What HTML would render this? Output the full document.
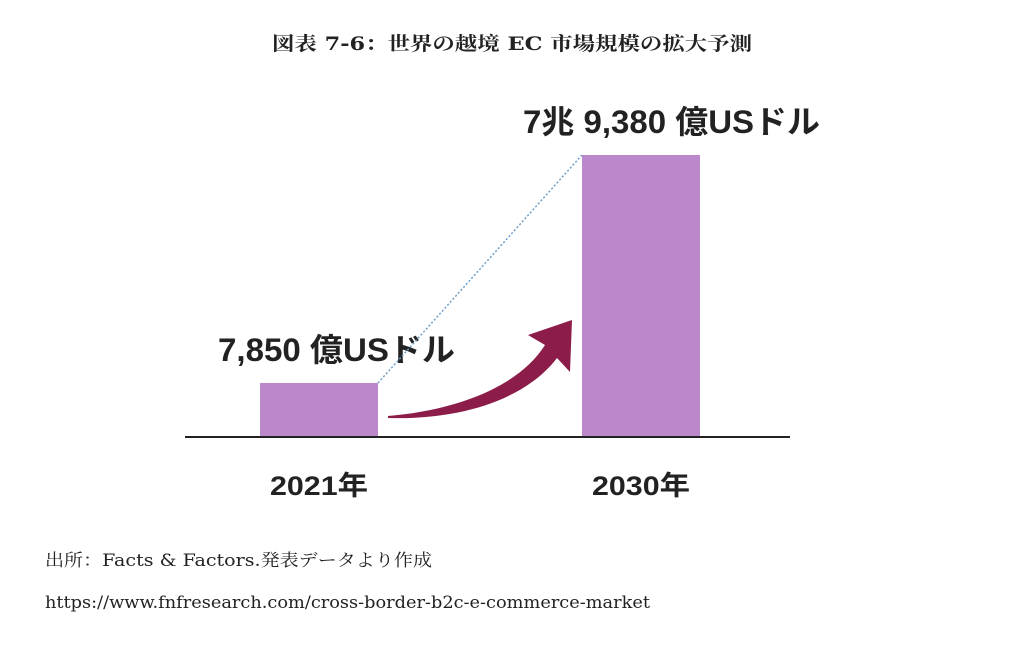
<!DOCTYPE html>
<html><head><meta charset="utf-8"><style>
body{margin:0;background:#fff;width:1024px;height:643px;overflow:hidden}
svg text{font-family:"Liberation Sans","Noto Sans CJK JP",sans-serif}
.serif{font-family:"DejaVu Serif","Noto Serif CJK SC",serif!important}
</style></head><body>
<svg width="1024" height="643">
<text class="serif" x="272" y="50" textLength="480" lengthAdjust="spacingAndGlyphs" font-size="19" font-weight="bold" fill="#222">図表 7-6：世界の越境 EC 市場規模の拡大予測</text>
<g id="bars"></g>
<line x1="185" y1="437" x2="790" y2="437" stroke="#222" stroke-width="2"/>
<path d="M388,416 C460,410 520,385 545,345 L528,335 L572,320 L570,372 L557,358 C525,400 460,420 388,418 Z" fill="#8c1c4a"/>
<text class="serif" x="45" y="566" textLength="387" lengthAdjust="spacingAndGlyphs" font-size="17" fill="#222">出所：Facts &amp; Factors.発表データより作成</text>
<text class="serif" x="45" y="608" textLength="605" lengthAdjust="spacingAndGlyphs" font-size="17" fill="#222">https://www.fnfresearch.com/cross-border-b2c-e-commerce-market</text>
</svg>
<script>
const categories=["2021年","2030年"];
const values=[7850,79380];
const valueLabels=["7,850 億USドル","7兆 9,380 億USドル"];
const ns="http://www.w3.org/2000/svg";
const g=document.getElementById('bars');
const vmin=-9100,vmax=79380,y0=437,y1=155;
function yScale(v){return y0-(v-vmin)/(vmax-vmin)*(y0-y1);}
const barW=118,centers=[319,641];
function xScale(i){return centers[0]+i*(centers[1]-centers[0])/(categories.length-1);}
const tops=[];
values.forEach((v,i)=>{
 const r=document.createElementNS(ns,'rect');
 const x=xScale(i)-barW/2,y=yScale(v);
 tops.push([x,y]);
 r.setAttribute('x',x);r.setAttribute('y',y);r.setAttribute('width',barW);r.setAttribute('height',y0-y);
 r.setAttribute('fill','#bb88cc');
 
 
 g.appendChild(r);
 const t=document.createElementNS(ns,'text');
 t.setAttribute('x',xScale(i)-49);t.setAttribute('y',495);
 t.setAttribute('textLength','98');t.setAttribute('lengthAdjust','spacingAndGlyphs');
 t.setAttribute('font-size','27');t.setAttribute('font-weight','bold');t.setAttribute('fill','#222');
 t.textContent=categories[i];
 
 
 g.appendChild(t);
 const l=document.createElementNS(ns,'text');
 l.setAttribute('x',i==0?xScale(i)-101:xScale(i)-118);l.setAttribute('y',y-22);
 l.setAttribute('textLength',i==0?'237':'297');l.setAttribute('lengthAdjust','spacingAndGlyphs');
 l.setAttribute('font-size','32');l.setAttribute('font-weight','bold');l.setAttribute('fill','#222');
 l.textContent=valueLabels[i];
 
 
 g.appendChild(l);
});
const dl=document.createElementNS(ns,'line');
dl.setAttribute('x1',tops[0][0]+barW);dl.setAttribute('y1',tops[0][1]);
dl.setAttribute('x2',tops[1][0]);dl.setAttribute('y2',tops[1][1]);
dl.setAttribute('stroke','#6a9ec8');dl.setAttribute('stroke-width','1.5');dl.setAttribute('stroke-dasharray','2,2');


g.appendChild(dl);
</script>
</body></html>
